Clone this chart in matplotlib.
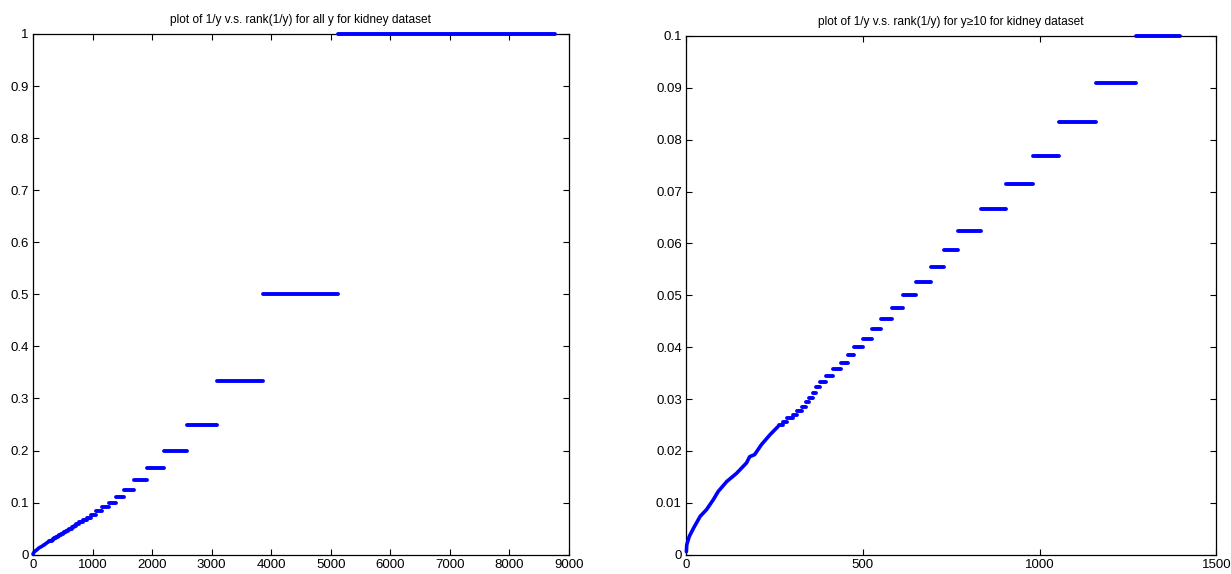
import matplotlib
matplotlib.use("Agg")
import matplotlib.pyplot as plt
import numpy as np

plt.rcParams["font.family"] = ["Liberation Sans", "DejaVu Sans"]

# integer y values that form flat runs in the sorted 1/y sequence
step_y = list(range(1, 41))
# number of observations at each y (y = 1 .. 40)
step_count = [3647, 1256, 777, 505, 380, 283, 224, 178, 122,
              126, 112, 105, 75, 76, 71, 64, 39, 38, 42, 37,
              31, 32, 25, 25, 24, 18, 21, 21, 19, 17,
              13, 9, 9, 10, 11, 15, 10, 17, 12, 12]

# large y (> 40): sparse values, read as (rank, 1/y) pairs
tail_rank = [1, 2, 9, 21, 40, 58, 77, 91, 115, 143, 171, 180, 194, 213, 237, 260]
tail_inv = [0.0006, 0.0019, 0.0035, 0.0051, 0.0074, 0.0087, 0.0106, 0.0122,
            0.0141, 0.0157, 0.0177, 0.0189, 0.0193, 0.0212, 0.0231, 0.0247]
tail_end = 262

left_xticks = [0, 1000, 2000, 3000, 4000, 5000, 6000, 7000, 8000, 9000]
left_yticks = [0, 0.1, 0.2, 0.3, 0.4, 0.5, 0.6, 0.7, 0.8, 0.9, 1]
left_ylabels = ["0", "0.1", "0.2", "0.3", "0.4", "0.5", "0.6", "0.7", "0.8", "0.9", "1"]
right_xticks = [0, 500, 1000, 1500]
right_yticks = [0, 0.01, 0.02, 0.03, 0.04, 0.05, 0.06, 0.07, 0.08, 0.09, 0.1]
right_ylabels = ["0", "0.01", "0.02", "0.03", "0.04", "0.05", "0.06", "0.07",
                 "0.08", "0.09", "0.1"]

# ranks run upward in 1/y, i.e. from the largest y down to y = 1
y_arr = np.array(step_y)[::-1]
cnt = np.array(step_count)[::-1]
ends = tail_end + np.cumsum(cnt)
starts = ends - cnt
inv = 1.0 / y_arr

BLUE = "#0000ff"


def draw(ax, mask):
    ax.plot(tail_rank, tail_inv, color=BLUE, lw=2.6, solid_capstyle="round",
            zorder=4, clip_on=False)
    ax.hlines(inv[mask], starts[mask], ends[mask], colors=BLUE, lw=2.8,
              capstyle="round", zorder=4, clip_on=False)


def style(ax):
    for s in ax.spines.values():
        s.set_linewidth(0.9)
    ax.tick_params(direction="in", length=4, width=0.8, top=True, right=True,
                   labelsize=9.5, pad=3)


fig = plt.figure(figsize=(12.31, 5.74), dpi=100)
ax1 = fig.add_axes([0.0268, 0.0336, 0.4354, 0.9072])
ax2 = fig.add_axes([0.5573, 0.0336, 0.4309, 0.9037])

draw(ax1, np.ones(len(inv), dtype=bool))
ax1.set_xlim(0, 9000)
ax1.set_ylim(0, 1)
ax1.set_xticks(left_xticks, [str(t) for t in left_xticks])
ax1.set_yticks(left_yticks, left_ylabels)
ax1.set_title("plot of 1/y v.s. rank(1/y) for all y for kidney dataset",
              fontsize=8.6, pad=8)
style(ax1)

draw(ax2, y_arr >= 10)
ax2.set_xlim(0, 1500)
ax2.set_ylim(0, 0.1)
ax2.set_xticks(right_xticks, [str(t) for t in right_xticks])
ax2.set_yticks(right_yticks, right_ylabels)
ax2.set_title("plot of 1/y v.s. rank(1/y) for y\u226510 for kidney dataset",
              fontsize=8.6, pad=8)
style(ax2)

fig.savefig("out.png", dpi=100)
